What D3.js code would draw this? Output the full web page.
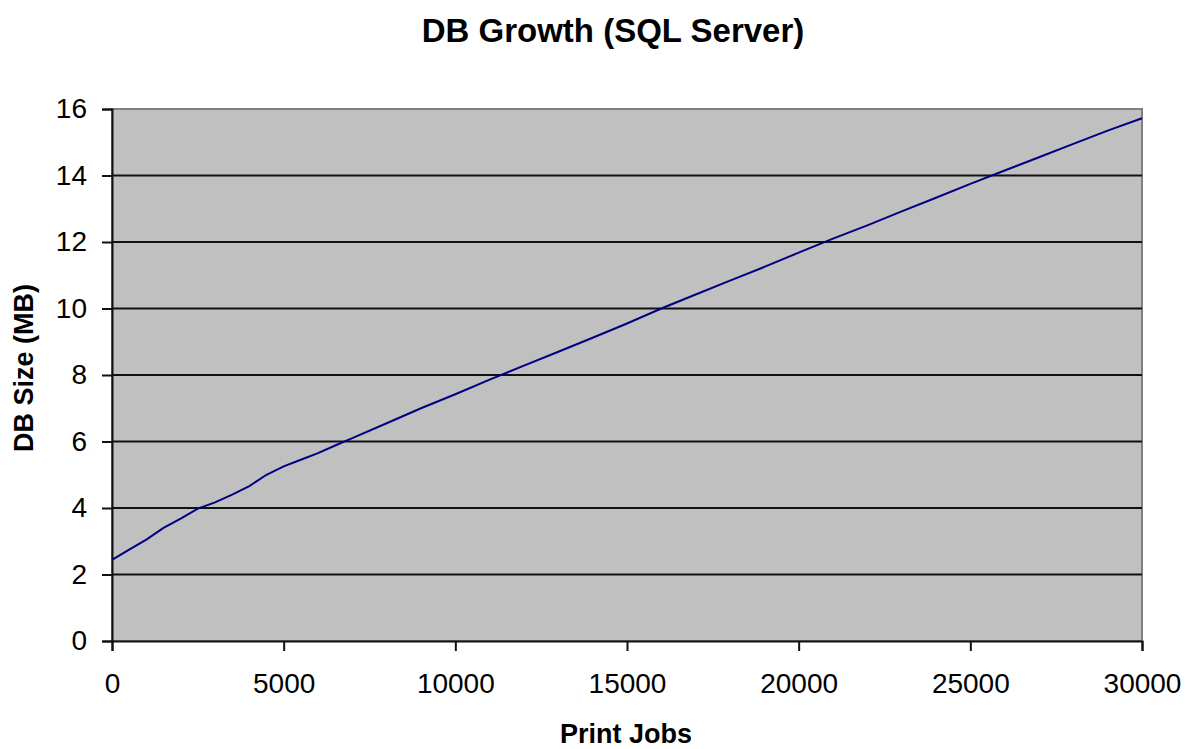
<!DOCTYPE html>
<html>
<head>
<meta charset="utf-8">
<script src="https://cdn.jsdelivr.net/npm/d3@7"></script>
<style>
    body { margin: 0; background: #fff; }
    text { font-family: "Liberation Sans", Arial, sans-serif; fill: #000; }
</style>
</head>
<body>
<div id="chart"></div>
<script>

// print jobs vs db size (MB)
const printJobs = [0, 500, 1000, 1500, 2000, 2500, 3000, 3500, 4000, 4500, 5000, 5500, 6000, 6500, 7000,
    8000, 9000, 10000, 11000, 12000, 13000, 14000, 15000, 16000, 17000, 18000, 19000, 20000,
    21000, 22000, 23000, 24000, 25000, 26000, 27000, 28000, 29000, 30000];
const dbSize = [2.44, 2.75, 3.05, 3.40, 3.68, 3.98, 4.17, 4.40, 4.66, 5.00, 5.25, 5.45, 5.65, 5.88, 6.10,
    6.55, 7.00, 7.42, 7.86, 8.28, 8.70, 9.12, 9.55, 10.00, 10.42, 10.84, 11.25, 11.68,
    12.10, 12.50, 12.92, 13.33, 13.75, 14.15, 14.55, 14.95, 15.35, 15.72];
const xTicks = [0, 5000, 10000, 15000, 20000, 25000, 30000];
const yTicks = [0, 2, 4, 6, 8, 10, 12, 14, 16];

const width = 1193, height = 749;
const margin = {top: 109, right: 51, bottom: 108, left: 112};

let svg = d3.select("#chart").append("svg")
    .attr("width", width)
    .attr("height", height);

let xScale = d3.scaleLinear()
    .domain([0, 30000])
    .range([margin.left, width - margin.right]);

let yScale = d3.scaleLinear()
    .domain([0, 16])
    .range([height - margin.bottom, margin.top]);

// plot background
svg.append("rect")
    .attr("x", xScale(0))
    .attr("y", yScale(16))
    .attr("width", xScale(30000) - xScale(0))
    .attr("height", yScale(0) - yScale(16))
    .attr("fill", "#c0c0c0")
    .attr("stroke", "#808080")
    .attr("stroke-width", 2);

// gridlines
svg.append("g")
    .selectAll("line")
    .data(yTicks.filter(d => d > 0 && d < 16))
    .join("line")
    .attr("x1", xScale(0))
    .attr("x2", xScale(30000))
    .attr("y1", d => yScale(d))
    .attr("y2", d => yScale(d))
    .attr("stroke", "#111")
    .attr("stroke-width", 2);

// axes
let xAxis = svg.append("g")
    .attr("transform", `translate(0, ${yScale(0)})`)
    .call(d3.axisBottom(xScale).tickValues(xTicks).tickSize(10).tickSizeOuter(10).tickPadding(22).tickFormat(d3.format("d")));

let yAxis = svg.append("g")
    .attr("transform", `translate(${xScale(0)}, 0)`)
    .call(d3.axisLeft(yScale).tickValues(yTicks).tickSize(10).tickSizeOuter(10).tickPadding(15));

[xAxis, yAxis].forEach(ax => {
    ax.select(".domain").attr("stroke", "#111").attr("stroke-width", 2);
    ax.selectAll(".tick line").attr("stroke", "#111").attr("stroke-width", 2);
    ax.selectAll(".tick text")
        .style("font-family", "'Liberation Sans', Arial, sans-serif")
        .style("font-size", "28px")
        .attr("fill", "#000");
});

// the series
let line = d3.line()
    .x((d, i) => xScale(printJobs[i]))
    .y(d => yScale(d));

svg.append("path")
    .datum(dbSize)
    .attr("d", line)
    .attr("fill", "none")
    .attr("stroke", "#000080")
    .attr("stroke-width", 2);

// titles
svg.append("text")
    .attr("x", 613)
    .attr("y", 42)
    .attr("text-anchor", "middle")
    .style("font-size", "33px")
    .style("font-weight", "bold")
    .text("DB Growth (SQL Server)");

svg.append("text")
    .attr("x", 626)
    .attr("y", 743)
    .attr("text-anchor", "middle")
    .style("font-size", "27px")
    .style("font-weight", "bold")
    .text("Print Jobs");

svg.append("text")
    .attr("transform", "translate(33, 368) rotate(-90)")
    .attr("text-anchor", "middle")
    .style("font-size", "27px")
    .style("font-weight", "bold")
    .text("DB Size (MB)");

</script>
</body>
</html>
